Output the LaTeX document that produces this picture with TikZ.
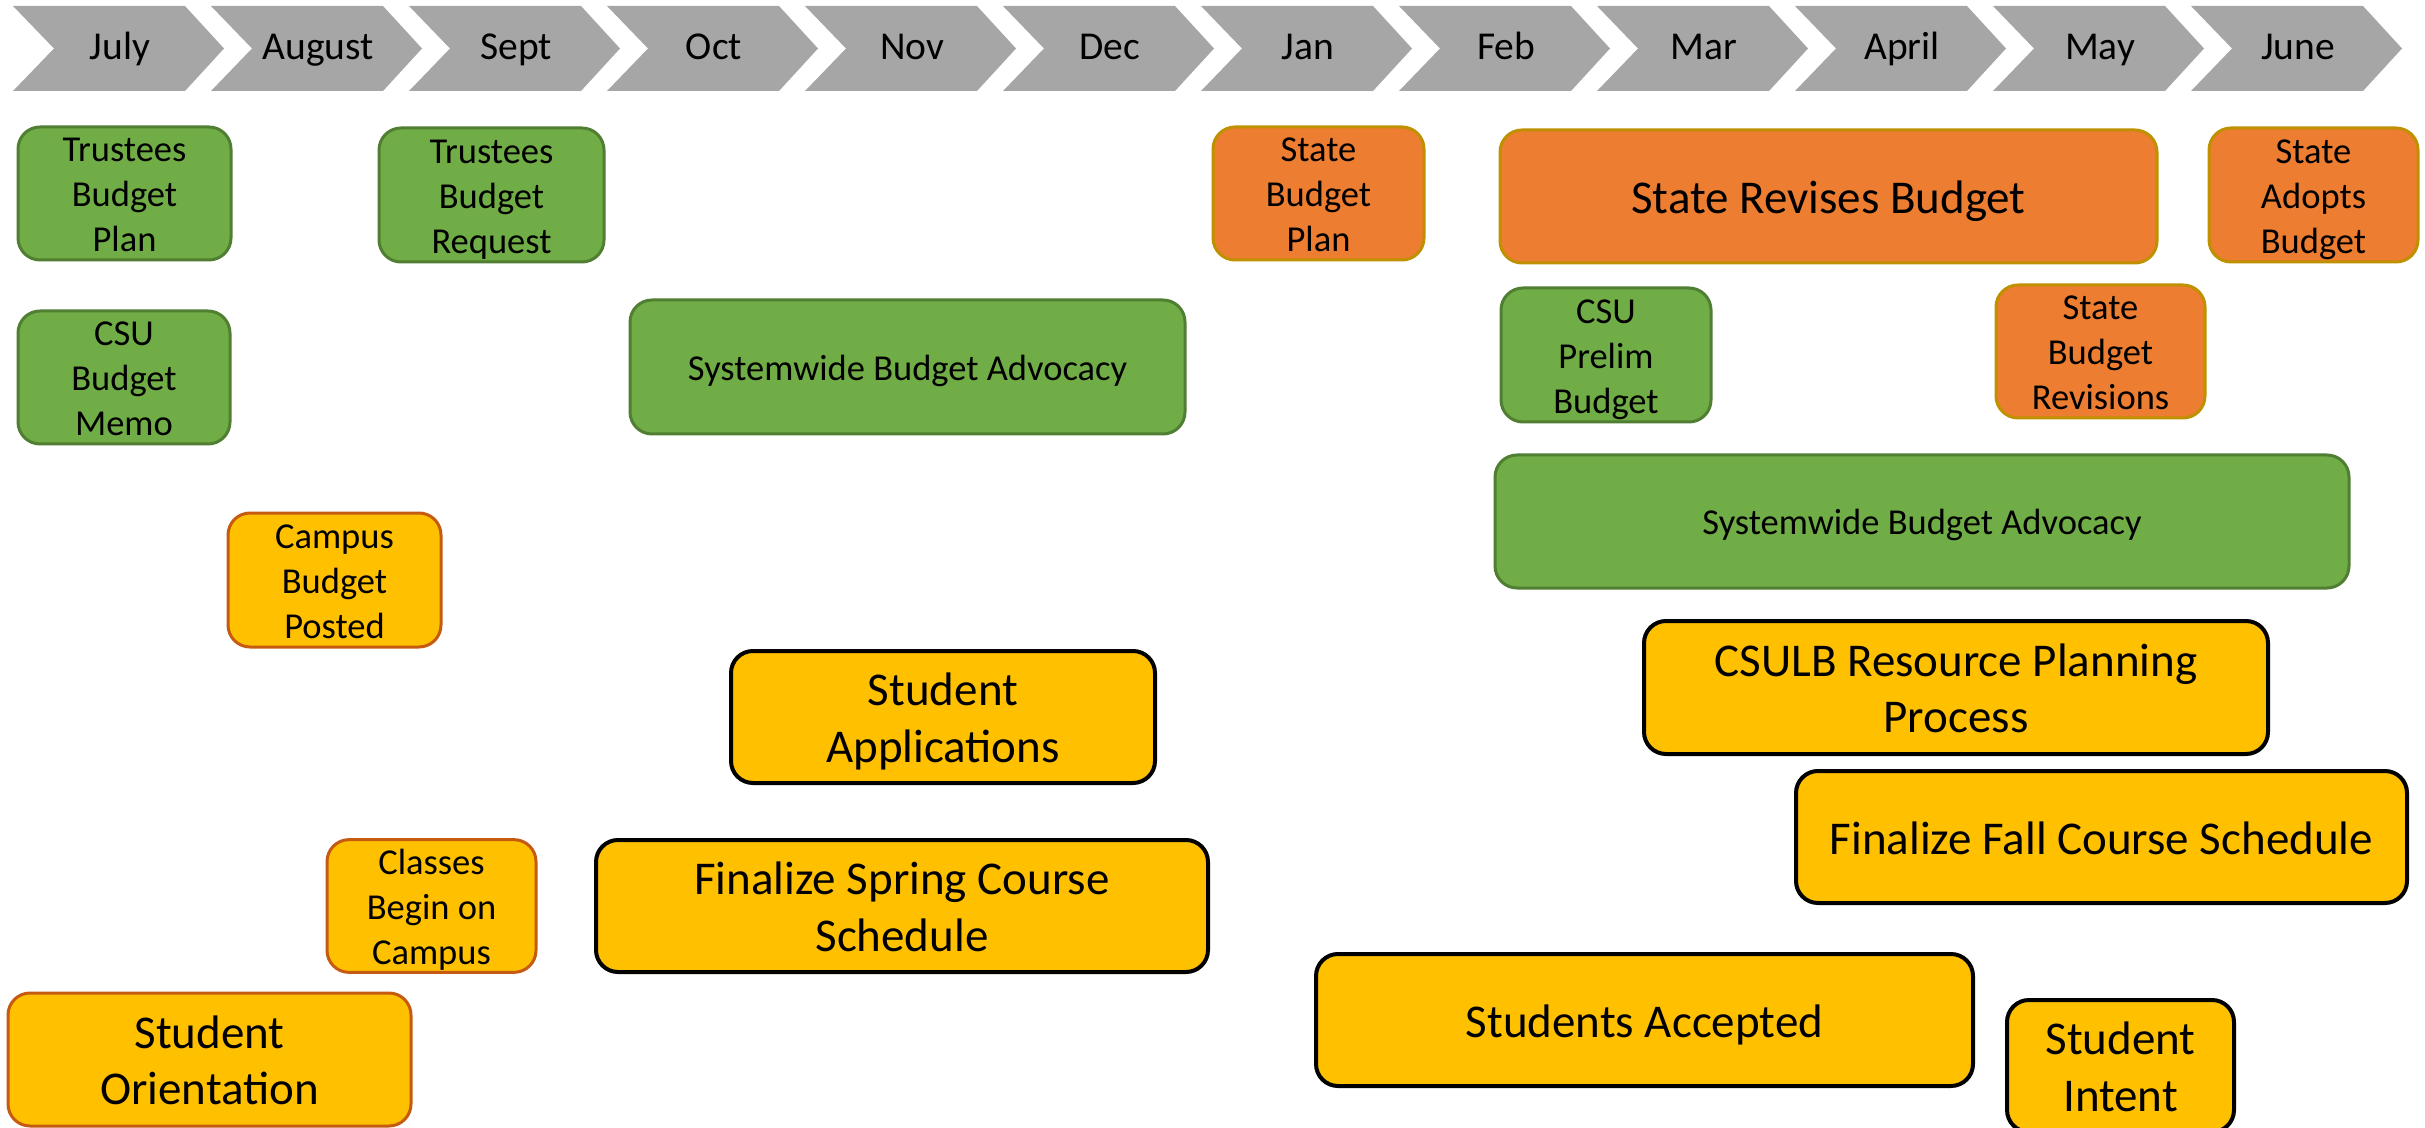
\documentclass[tikz,border=0pt]{standalone}
\usepackage{fontspec}
\setmainfont{Carlito}
\usepackage{xcolor}
\definecolor{chevgray}{HTML}{A6A6A6}
\definecolor{budgetgreen}{HTML}{70AD47}
\definecolor{greenline}{HTML}{507E32}
\definecolor{stateorange}{HTML}{ED7D31}
\definecolor{orangeline}{HTML}{BF9000}
\definecolor{campusgold}{HTML}{FFC000}
\definecolor{goldline}{HTML}{C55A11}
\newcommand\ppstrut{\rule[-0.22em]{0pt}{1.17em}}

\begin{document}
\begin{tikzpicture}[x=0.5pt,y=-0.5pt,
        month/.style={font=\fontsize{19.75}{24}\selectfont, text height=14pt, text depth=2.5pt, inner sep=0pt},
        chev/.style={fill=chevgray},
        task/.style={rounded corners=11pt, inner sep=0pt, align=center, line width=1.5pt,
            execute at end node=\ppstrut},
        small/.style={font=\fontsize{18.25}{22.5}\selectfont},
        large/.style={font=\fontsize{23.5}{28.25}\selectfont},
        greenbox/.style={task, small, fill=budgetgreen, draw=greenline},
        orangebox/.style={task, fill=stateorange, draw=orangeline},
        goldbox/.style={task, fill=campusgold, draw=goldline},
        blackbox/.style={task, large, fill=campusgold, draw=black, line width=2pt},
        dims/.style 2 args={minimum width=#1, minimum height=#2}
    ]
    \useasboundingbox (0,0) rectangle (2425,1128);
    \foreach \m [count=\i from 0] in {July,August,Sept,Oct,Nov,Dec,Jan,Feb,Mar,April,May,June}{
        \fill[chev] (13+198*\i,6) -- ++(172,0) -- ++(39,42.5) -- ++(-39,42.5) -- ++(-172,0) -- ++(41,-42.5) -- cycle;
        \node[month] (mon\i) at (120+198*\i,48.5) {\m};
    }
    \node[greenbox, dims={106.5pt}{66.5pt}] (trplan) at (124.5,193.5) {\ppstrut Trustees\\Budget\\Plan};
    \node[greenbox, dims={112.5pt}{67pt}] (trreq) at (491.5,195) {\ppstrut Trustees\\Budget\\Request};
    \node[greenbox, dims={106pt}{66.5pt}] (csumemo) at (124,377.5) {\ppstrut CSU\\Budget\\Memo};
    \node[greenbox, dims={277.5pt}{67pt}] (advfall) at (907.5,367) {\ppstrut Systemwide Budget Advocacy};
    \node[goldbox, small, dims={106.5pt}{67pt}] (posted) at (334.5,580) {\ppstrut Campus\\Budget\\Posted};
    \node[blackbox, dims={212pt}{66pt}] (apps) at (943,717) {\ppstrut Student\\Applications};
    \node[goldbox, small, dims={104.5pt}{66pt}] (classes) at (431.5,906) {\ppstrut Classes\\Begin on\\Campus};
    \node[blackbox, dims={306pt}{66pt}] (spring) at (902,906) {\ppstrut Finalize Spring Course\\Schedule};
    \node[goldbox, large, dims={201.5pt}{66.5pt}] (orient) at (209.5,1059.5) {\ppstrut Student\\Orientation};
    \node[orangebox, small, dims={105.5pt}{66.5pt}] (stplan) at (1318.5,193.5) {\ppstrut State\\Budget\\Plan};
    \node[orangebox, large, dims={328.5pt}{66.5pt}] (revises) at (1828.5,196.5) {\ppstrut State Revises Budget};
    \node[orangebox, small, dims={104.5pt}{67pt}] (adopts) at (2313.5,195) {\ppstrut State\\Adopts\\Budget};
    \node[greenbox, dims={105pt}{67pt}] (prelim) at (1606,355) {\ppstrut CSU\\Prelim\\Budget};
    \node[orangebox, small, dims={104.5pt}{66.5pt}] (revisions) at (2100.5,351.5) {\ppstrut State\\Budget\\Revisions};
    \node[greenbox, dims={427pt}{66.5pt}] (advspring) at (1922,521.5) {\ppstrut Systemwide Budget Advocacy};
    \node[blackbox, dims={312pt}{66.5pt}] (csulb) at (1956,687.5) {\ppstrut CSULB Resource Planning\\Process};
    \node[blackbox, dims={305.5pt}{66pt}] (fallsched) at (2101.5,837) {\ppstrut Finalize Fall Course Schedule};
    \node[blackbox, dims={328.5pt}{66pt}] (accepted) at (1644.5,1020) {\ppstrut Students Accepted};
    \node[blackbox, dims={113.5pt}{66pt}] (intent) at (2120.5,1066) {\ppstrut Student\\Intent};
\end{tikzpicture}
\end{document}
